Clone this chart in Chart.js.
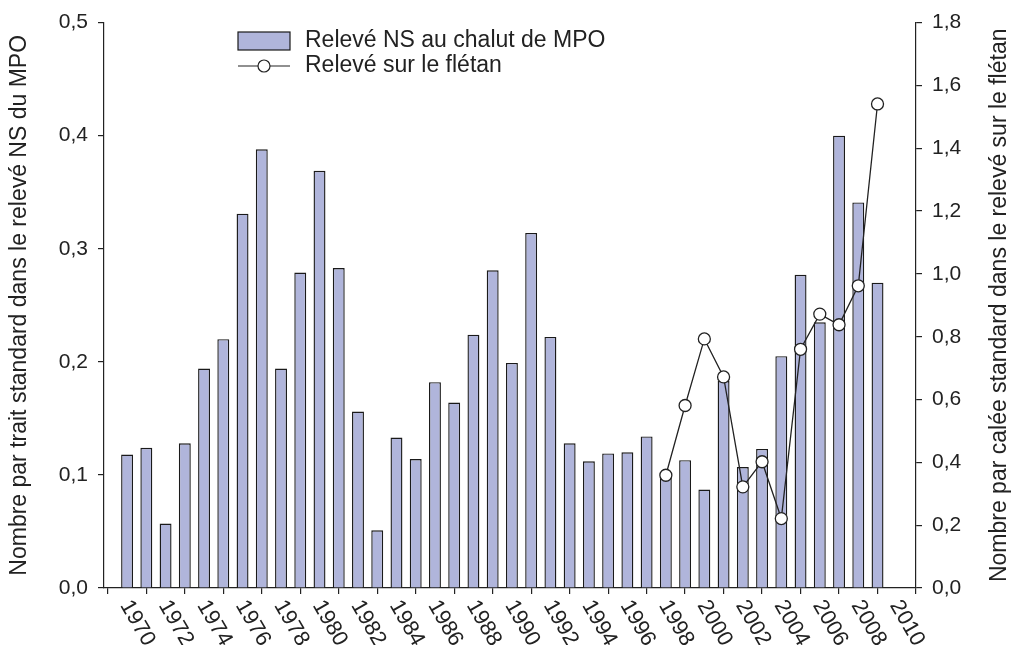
<!DOCTYPE html>
<html>
<head>
<meta charset="utf-8">
<script src="https://cdn.jsdelivr.net/npm/chart.js@4.4.1/dist/chart.umd.min.js"></script>
<style>
  html, body { margin: 0; padding: 0; background: #fff; }
  canvas { display: block; }
</style>
</head>
<body>
<canvas id="graphique" width="1012" height="645"></canvas>
<script>
// annees du releve NS (barres)
var annees = [1970, 1971, 1972, 1973, 1974, 1975, 1976, 1977, 1978, 1979,
  1980, 1981, 1982, 1983, 1984, 1985, 1986, 1987, 1988, 1989,
  1990, 1991, 1992, 1993, 1994, 1995, 1996, 1997, 1998, 1999,
  2000, 2001, 2002, 2003, 2004, 2005, 2006, 2007, 2008, 2009];
var releveNS = [0.118, 0.124, 0.057, 0.128, 0.194, 0.220, 0.331, 0.388, 0.194, 0.279,
  0.369, 0.283, 0.156, 0.051, 0.133, 0.114, 0.182, 0.164, 0.224, 0.281,
  0.199, 0.314, 0.222, 0.128, 0.112, 0.119, 0.120, 0.134, 0.100, 0.113,
  0.087, 0.183, 0.107, 0.123, 0.205, 0.277, 0.235, 0.400, 0.341, 0.270];

var anneesFletan = [1998, 1999, 2000, 2001, 2002, 2003, 2004, 2005, 2006, 2007, 2008, 2009];
var releveFletan = [0.359, 0.581, 0.793, 0.672, 0.322, 0.402, 0.221, 0.760, 0.872, 0.838, 0.962, 1.541];

var etiquettesX = ['1970', '1972', '1974', '1976', '1978', '1980', '1982', '1984', '1986', '1988',
  '1990', '1992', '1994', '1996', '1998', '2000', '2002', '2004', '2006', '2008', '2010'];

var nomBarres = 'Relevé NS au chalut de MPO';
var nomLigne = 'Relevé sur le flétan';
var titreGauche = 'Nombre par trait standard dans le relevé NS du MPO';
var titreDroite = 'Nombre par calée standard dans le relevé sur le flétan';

var police = "'Liberation Sans', Arial, sans-serif";
var taille = 21;      // graduations
var tailleTitre = 23; // titres et legende
var encre = '#222222';

function virgule(v) {
  return v.toFixed(1).replace('.', ',');
}

// textes dessines a la main : etiquettes inclinees, titre de droite, legende
var textesPlugin = {
  id: 'textes',
  afterDraw: function (chart) {
    var ctx = chart.ctx;
    var x = chart.scales.x;
    var area = chart.chartArea;
    ctx.save();
    ctx.fillStyle = encre;
    ctx.font = '22px ' + police;

    // annees inclinees sous l'axe
    etiquettesX.forEach(function (t) {
      var px = x.getPixelForValue(Number(t));
      ctx.save();
      ctx.translate(px - 2, area.bottom + 14);
      ctx.rotate(Math.PI / 3);
      ctx.textAlign = 'left';
      ctx.textBaseline = 'middle';
      ctx.fillText(t, 0, 0);
      ctx.restore();
    });

    ctx.font = tailleTitre + 'px ' + police;

    // titre de l'axe de droite, lu de bas en haut
    ctx.save();
    ctx.translate(1000, (area.top + area.bottom) / 2);
    ctx.rotate(-Math.PI / 2);
    ctx.textAlign = 'center';
    ctx.textBaseline = 'middle';
    ctx.fillText(titreDroite, 0, 0);
    ctx.restore();

    // legende
    var barres = chart.data.datasets[1];
    var ligne = chart.data.datasets[0];
    ctx.fillStyle = barres.backgroundColor;
    ctx.fillRect(238, 32, 52, 18);
    ctx.strokeStyle = barres.borderColor;
    ctx.lineWidth = 1.2;
    ctx.strokeRect(238, 32, 52, 18);
    ctx.beginPath();
    ctx.moveTo(238, 66);
    ctx.lineTo(290, 66);
    ctx.strokeStyle = ligne.borderColor;
    ctx.stroke();
    ctx.beginPath();
    ctx.arc(264, 66, 6, 0, Math.PI * 2);
    ctx.fillStyle = '#ffffff';
    ctx.fill();
    ctx.stroke();
    ctx.fillStyle = encre;
    ctx.textAlign = 'left';
    ctx.textBaseline = 'middle';
    ctx.fillText(nomBarres, 305, 41);
    ctx.fillText(nomLigne, 305, 66);
    ctx.restore();
  }
};

var ctx = document.getElementById('graphique').getContext('2d');
var graphique = new Chart(ctx, {
  type: 'bar',
  data: {
    datasets: [{
      type: 'line',
      label: nomLigne,
      data: anneesFletan.map(function (a, i) { return { x: a, y: releveFletan[i] }; }),
      yAxisID: 'y1',
      borderColor: encre,
      borderWidth: 1.3,
      pointRadius: 6,
      pointBackgroundColor: '#ffffff',
      pointBorderColor: encre,
      pointBorderWidth: 1.3,
      tension: 0,
      order: 0
    }, {
      label: nomBarres,
      data: annees.map(function (a, i) { return { x: a, y: releveNS[i] }; }),
      yAxisID: 'y',
      backgroundColor: '#b0b5db',
      borderColor: '#1a1a1a',
      borderWidth: 1.4,
      barPercentage: 0.62,
      categoryPercentage: 1,
      order: 1
    }]
  },
  options: {
    responsive: false,
    animation: false,
    devicePixelRatio: 1,
    layout: { padding: { top: 22, left: 0, right: 0, bottom: 0 } },
    plugins: {
      legend: { display: false },
      tooltip: { enabled: false }
    },
    scales: {
      x: {
        type: 'linear',
        min: 1968.8,
        max: 2011,
        offset: false,
        afterBuildTicks: function (s) {
          s.ticks = etiquettesX.map(function (t) { return { value: Number(t) }; });
        },
        afterFit: function (s) { s.height = 57; },
        ticks: { display: false },
        grid: { drawOnChartArea: false, tickLength: 6, color: encre, lineWidth: 1.2 },
        border: { color: encre, width: 1.2 }
      },
      y: {
        position: 'left',
        min: 0,
        max: 0.5,
        afterFit: function (s) { s.width = 104; },
        ticks: {
          stepSize: 0.1,
          padding: 10,
          color: encre,
          font: { family: police, size: taille },
          callback: function (v) { return virgule(v); }
        },
        title: {
          display: true,
          text: titreGauche,
          color: encre,
          font: { family: police, size: tailleTitre },
          padding: { top: 6, bottom: 0 }
        },
        grid: { drawOnChartArea: false, tickLength: 6, color: encre, lineWidth: 1.2 },
        border: { color: encre, width: 1.2 }
      },
      y1: {
        position: 'right',
        min: 0,
        max: 1.8,
        afterFit: function (s) { s.width = 96; },
        ticks: {
          stepSize: 0.2,
          padding: 10,
          color: encre,
          font: { family: police, size: taille },
          callback: function (v) { return virgule(v); }
        },
        grid: { drawOnChartArea: false, tickLength: 6, color: encre, lineWidth: 1.2 },
        border: { color: encre, width: 1.2 }
      }
    }
  },
  plugins: [textesPlugin]
});
</script>
</body>
</html>
